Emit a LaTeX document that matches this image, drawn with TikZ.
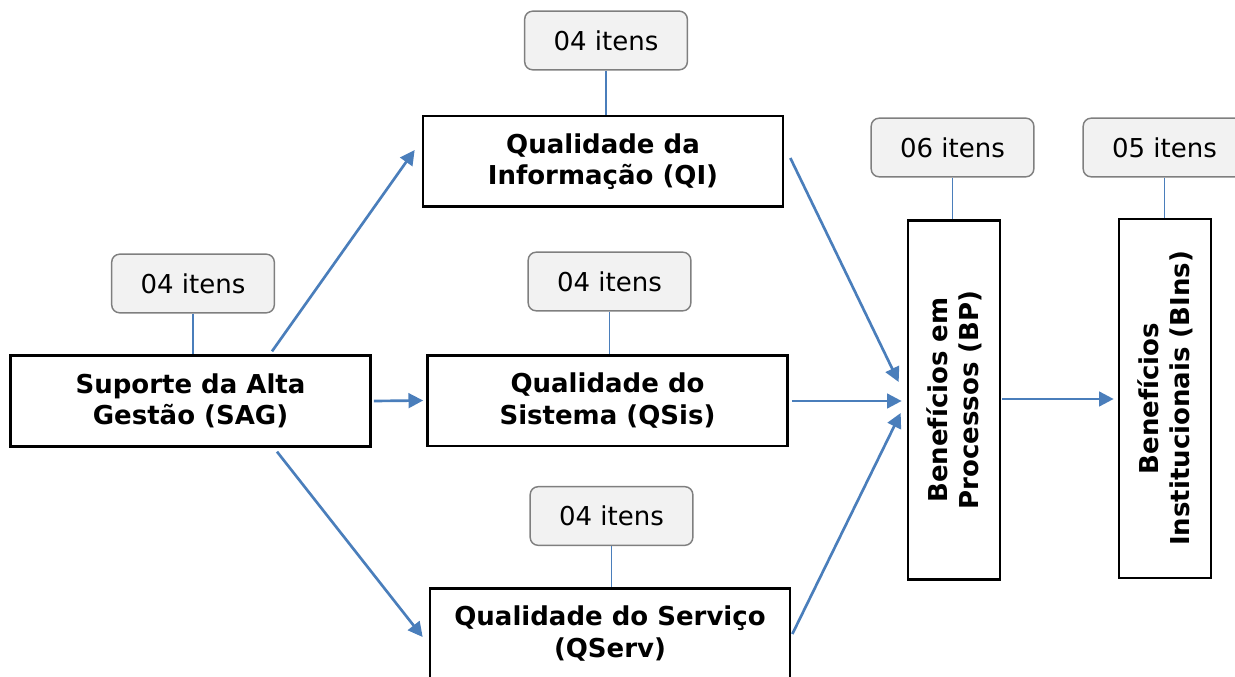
\documentclass[tikz,border=0pt]{standalone}
\usepackage{fontspec}
\setmainfont{DejaVu Sans}
\usetikzlibrary{arrows.meta,calc}
\definecolor{arrblue}{HTML}{4A7EBB}
\definecolor{lblfill}{HTML}{F2F2F2}
\definecolor{lbldraw}{HTML}{7F7F7F}
\tikzset{
  mainbox/.style={draw=black, line width=2pt, fill=white, inner sep=0pt, align=center,
    font=\bfseries\fontsize{19.5}{23.5}\selectfont},
  hbox/.style={mainbox, minimum width=270pt, minimum height=68pt},
  vbox/.style={mainbox, rotate=90, minimum width=269pt, minimum height=69pt},
  lblbox/.style={draw=lbldraw, fill=lblfill, line width=1.1pt, rounded corners=6pt,
    minimum width=122pt, minimum height=44pt, inner sep=0pt,
    font=\fontsize{19.5}{23}\selectfont},
  link/.style={draw=arrblue, line width=1.4pt},
  flow/.style={draw=arrblue, line width=2pt, -{Triangle[length=11pt,width=11pt]}}
}
\begin{document}
\begin{tikzpicture}[x=0.75pt,y=-0.75pt]
\useasboundingbox (0,0) rectangle (1235,677);
\clip (0,0) rectangle (1235,677);
% main boxes
\node[hbox] (sag) at (190.5,401) {Suporte da Alta\\Gestão (SAG)};
\node[hbox] (qi) at (603,161.5) {Qualidade da\\Informação (QI)};
\node[hbox] (qsis) at (607.5,400.5) {Qualidade do\\Sistema (QSis)};
\node[hbox] (qserv) at (610,633.5) {Qualidade do Serviço\\(QServ)};
\node[vbox] (bp) at (954,400) {Benefícios em\\Processos (BP)};
\node[vbox] (bins) at (1165,398.5) {Benefícios\\Institucionais (BIns)};
% labels
\node[lblbox] (l1) at (193,283.5) {04 itens};
\node[lblbox] (l2) at (606,40.5) {04 itens};
\node[lblbox] (l3) at (609.5,281.5) {04 itens};
\node[lblbox] (l4) at (611.5,516) {04 itens};
\node[lblbox] (l5) at (952.5,147.5) {06 itens};
\node[lblbox] (l6) at (1164.5,147.5) {05 itens};
% label links
\draw[link] (l1.south) -- (l1.south |- sag.north);
\draw[link] (l2.south) -- (l2.south |- qi.north);
\draw[link] (l3.south) -- (l3.south |- qsis.north);
\draw[link] (l4.south) -- (l4.south |- qserv.north);
\draw[link] (l5.south) -- (l5.south |- bp.east);
\draw[link] (l6.south) -- (l6.south |- bins.east);
% flows
\draw[flow] ($(sag.north)+(81.5,-3)$) -- ($(qi.west)+(-7,-11.5)$);
\draw[flow] ($(sag.east)+(2,0)$) -- ($(qsis.west)+(-3,0)$);
\draw[flow] ($(sag.south)+(86.5,4)$) -- ($(qserv.west)+(-6,3.5)$);
\draw[flow] ($(qi.east)+(6,-3.5)$) -- ($(bp.north)+(-8,-18)$);
\draw[flow] ($(qsis.east)+(3,0.5)$) -- ($(bp.north)+(-5,1)$);
\draw[flow] ($(qserv.east)+(1,0.5)$) -- ($(bp.north)+(-6,13)$);
\draw[flow] ($(bp.south)+(1,-1)$) -- ($(bins.north)+(-4,0.5)$);
\end{tikzpicture}
\end{document}
